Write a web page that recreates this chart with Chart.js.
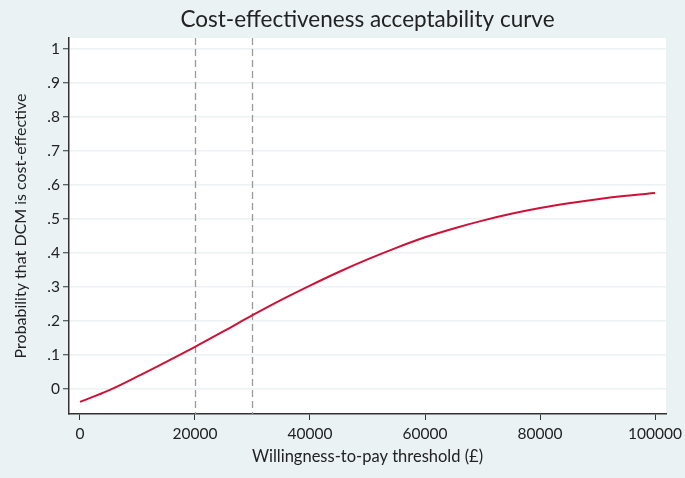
<!DOCTYPE html>
<html>
<head>
<meta charset="utf-8">
<script src="https://cdn.jsdelivr.net/npm/chart.js@4/dist/chart.umd.min.js"></script>
<style>
  html, body { margin: 0; padding: 0; background: #eaf2f3; }
  #wrap { width: 685px; height: 478px; }
</style>
</head>
<body>
<div id="wrap"><canvas id="ceac" width="685" height="478"></canvas></div>
<script>
// Willingness-to-pay thresholds (GBP) and probability DCM is cost-effective
const wtp = [0, 5000, 10000, 15000, 20000, 25000, 30000, 35000, 40000, 45000, 50000,
             55000, 60000, 65000, 70000, 75000, 80000, 85000, 90000, 95000, 100000];
const probCE = [-0.038, -0.004, 0.037, 0.080, 0.124, 0.170, 0.217, 0.262, 0.304, 0.344, 0.381,
                0.415, 0.446, 0.472, 0.495, 0.515, 0.532, 0.546, 0.558, 0.568, 0.576];

// reference thresholds drawn as dashed lines
const thresholds = [20000, 30000];

// axis ticks
const xTicks = [0, 20000, 40000, 60000, 80000, 100000];
const yTicks = [0, 0.1, 0.2, 0.3, 0.4, 0.5, 0.6, 0.7, 0.8, 0.9, 1];
const yTickLabels = ['0', '.1', '.2', '.3', '.4', '.5', '.6', '.7', '.8', '.9', '1'];

const FONT = 'Lato, "Open Sans", sans-serif';
const AXIS = '#333333';

// white plot region + dashed threshold lines
const plotRegion = {
    id: 'plotRegion',
    beforeDraw(chart) {
        const { ctx, chartArea: a } = chart;
        ctx.save();
        ctx.fillStyle = '#ffffff';
        ctx.fillRect(a.left, a.top, a.right - a.left, a.bottom - a.top);
        ctx.restore();
    },
    beforeDatasetsDraw(chart) {
        const { ctx, chartArea: a, scales } = chart;
        ctx.save();
        ctx.strokeStyle = '#9a9a9a';
        ctx.lineWidth = 1.3;
        ctx.setLineDash([7, 4]);
        thresholds.forEach(t => {
            const px = Math.round(scales.x.getPixelForValue(t)) + 0.5;
            ctx.beginPath();
            ctx.moveTo(px, a.top);
            ctx.lineTo(px, a.bottom);
            ctx.stroke();
        });
        ctx.restore();
    }
};

new Chart(document.getElementById('ceac'), {
    type: 'line',
    data: {
        datasets: [{
            data: wtp.map((w, i) => ({ x: w, y: probCE[i] })),
            borderColor: '#cf1138',
            borderWidth: 2,
            pointRadius: 0,
            cubicInterpolationMode: 'monotone',
            fill: false
        }]
    },
    options: {
        responsive: false,
        animation: false,
        layout: { padding: { left: 0, right: 19, top: 0, bottom: 0 } },
        plugins: {
            legend: { display: false },
            tooltip: { enabled: false },
            title: {
                display: true,
                fullSize: false,
                text: 'Cost-effectiveness acceptability curve',
                color: '#222222',
                font: { family: FONT, size: 22.5, weight: 'normal', lineHeight: 1.2 },
                padding: { top: 6, bottom: 5 }
            }
        },
        scales: {
            x: {
                type: 'linear',
                min: -1913,
                max: 101913,
                afterBuildTicks: s => { s.ticks = xTicks.map(v => ({ value: v })); },
                afterFit: s => { s.height = 64; s.paddingLeft = 0; s.paddingRight = 0; },
                ticks: {
                    color: '#222222',
                    font: { family: FONT, size: 15.5 },
                    padding: 5,
                    maxRotation: 0,
                    callback: v => String(v)
                },
                grid: { drawOnChartArea: false, tickLength: 6, tickColor: AXIS, tickWidth: 1 },
                border: { color: AXIS, width: 1.5 },
                title: {
                    display: true,
                    text: 'Willingness-to-pay threshold (£)',
                    color: '#222222',
                    font: { family: FONT, size: 16.5 },
                    padding: { top: 0, bottom: 11 }
                }
            },
            y: {
                type: 'linear',
                min: -0.0735,
                max: 1.032,
                afterBuildTicks: s => { s.ticks = yTicks.map(v => ({ value: v })); },
                afterFit: s => { s.width = 69; s.paddingTop = 0; s.paddingBottom = 0; },
                ticks: {
                    color: '#222222',
                    font: { family: FONT, size: 15.5 },
                    padding: 3,
                    callback: (v, i) => yTickLabels[i]
                },
                grid: { color: '#eaf2f3', lineWidth: 1.5, tickLength: 6, tickColor: AXIS, tickWidth: 1 },
                border: { color: AXIS, width: 1.5 },
                title: {
                    display: true,
                    text: 'Probability that DCM is cost-effective',
                    color: '#222222',
                    font: { family: FONT, size: 16 },
                    padding: { top: 11, bottom: 0 }
                }
            }
        }
    },
    plugins: [plotRegion]
});
</script>
</body>
</html>
